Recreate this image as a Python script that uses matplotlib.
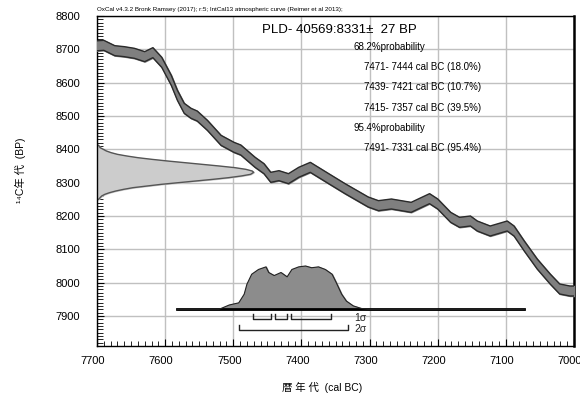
import matplotlib
matplotlib.use('Agg')
import matplotlib.pyplot as plt
import matplotlib.transforms as mtransforms
import numpy as np

plt.rcParams['font.family'] = ['Liberation Sans', 'Noto Sans CJK JP', 'DejaVu Sans']

# calibration curve (IntCal13), cal BC vs BP
curve_year = [7705, 7690, 7674, 7660, 7645, 7630, 7618, 7605, 7591, 7582, 7572,
              7562, 7553, 7538, 7518, 7499, 7489, 7468, 7455, 7445, 7433, 7419,
              7404, 7387, 7360, 7336, 7302, 7287, 7268, 7239, 7212, 7200, 7181,
              7168, 7152, 7142, 7123, 7098, 7088, 7073, 7054, 7035, 7021, 7006, 6995]
curve_bp = [8710, 8712, 8696, 8693, 8688, 8678, 8690, 8661, 8607, 8562, 8523,
            8508, 8500, 8472, 8427, 8406, 8398, 8361, 8342, 8316, 8321, 8312,
            8331, 8346, 8312, 8282, 8242, 8231, 8236, 8226, 8252, 8236, 8196,
            8181, 8185, 8170, 8155, 8170, 8155, 8110, 8056, 8011, 7981, 7975, 7975]
curve_err = [15] * len(curve_year)

# measured date shown on the y axis (8331 +/- 27 BP)
date_bp = [8250, 8255, 8260, 8265, 8270, 8275, 8280, 8285, 8290, 8295, 8300,
           8305, 8310, 8315, 8320, 8325, 8331, 8335, 8340, 8345, 8350, 8355,
           8360, 8365, 8370, 8375, 8380, 8385, 8390, 8395, 8400, 8405, 8412]
date_prob = [0.01, 0.02, 0.03, 0.05, 0.08, 0.12, 0.17, 0.23, 0.32, 0.41, 0.52,
             0.63, 0.74, 0.84, 0.92, 0.98, 1.0, 0.99, 0.95, 0.88, 0.78, 0.67,
             0.56, 0.45, 0.35, 0.26, 0.19, 0.13, 0.09, 0.06, 0.04, 0.02, 0.01]

# calibrated distribution on the x axis
cal_year = [7582, 7521, 7506, 7492, 7484, 7480, 7473, 7463, 7452, 7448, 7440,
            7430, 7421, 7414, 7404, 7394, 7385, 7375, 7365, 7355, 7349, 7341,
            7334, 7324, 7312, 7302, 7073]
cal_prob = [0, 0, 0.10, 0.15, 0.35, 0.58, 0.81, 0.92, 0.98, 0.85, 0.78,
            0.85, 0.75, 0.92, 0.98, 1.0, 0.96, 0.98, 0.92, 0.81, 0.62, 0.35,
            0.19, 0.08, 0.02, 0, 0]

sigma1 = [(7471, 7444), (7439, 7421), (7415, 7357)]
sigma2 = [(7491, 7331)]

title = 'PLD- 40569:8331±  27 BP'
prob_lines = ['68.2%probability',
              '7471- 7444 cal BC (18.0%)',
              '7439- 7421 cal BC (10.7%)',
              '7415- 7357 cal BC (39.5%)',
              '95.4%probability',
              '7491- 7331 cal BC (95.4%)']
header = 'OxCal v4.3.2 Bronk Ramsey (2017); r:5; IntCal13 atmospheric curve (Reimer et al 2013);'

fig = plt.figure(figsize=(5.8, 4.03), dpi=100)
ax = fig.add_axes([97 / 580, 57 / 403, 477 / 580, 330 / 403])

x_lo, x_hi = 7700, 7000
y_lo, y_hi = 7810, 8800
ax.set_xlim(x_lo, x_hi)
ax.set_ylim(y_lo, y_hi)

# grid with small dots at the crossings
xt = np.arange(7700, 6999, -100)
yt = np.arange(7900, 8801, 100)
ax.set_xticks(xt)
ax.set_yticks(yt)
ax.set_xticks(np.arange(7700, 6999, -10), minor=True)
ax.set_yticks(np.arange(7810, 8801, 10), minor=True)
ax.grid(True, color='#c0c0c0', lw=1.0, zorder=0)
gx, gy = np.meshgrid(xt[1:], yt[:-1])
ax.plot(gx.ravel(), gy.ravel(), ls='none', marker='o', ms=1.2, mew=0,
        color='black', zorder=1)

# calibration curve band
cb = np.array(curve_bp)
ce = np.array(curve_err)
ax.fill_between(curve_year, cb - ce, cb + ce, color='#7f7f7f', zorder=3)
ax.plot(curve_year, cb + ce, color='#2a2a2a', lw=1.0, zorder=4)
ax.plot(curve_year, cb - ce, color='#2a2a2a', lw=1.0, zorder=4)

# radiocarbon date distribution
date_span = 230
dx = x_lo - np.array(date_prob) * date_span
ax.fill_betweenx(date_bp, x_lo, dx, color='#cccccc', zorder=2)
ax.plot(dx, date_bp, color='#555555', lw=1.0, zorder=2)

# calibrated date distribution
base = 7920
cal_h = 130
cy = base + np.array(cal_prob) * cal_h
ax.fill_between(cal_year, base, cy, color='#8c8c8c', zorder=3)
ax.plot(cal_year, cy, color='#222222', lw=0.8, zorder=4)
ax.plot([cal_year[0], cal_year[-1]], [base, base], color='black', lw=2.0, zorder=3)

# sigma ranges
for a, b in sigma1:
    ax.plot([a, a, b, b], [7905, 7890, 7890, 7905], color='#222222', lw=1.0, zorder=4)
for a, b in sigma2:
    ax.plot([a, a, b, b], [7872, 7857, 7857, 7872], color='#222222', lw=1.0, zorder=4)
ax.text(7322, 7895, '1σ', fontsize=7.5, ha='left', va='center', color='#222222')
ax.text(7322, 7862, '2σ', fontsize=7.5, ha='left', va='center', color='#222222')

# ticks
ax.tick_params(axis='both', which='both', direction='in', top=False, right=False,
               labelsize=8, colors='black')
ax.tick_params(axis='x', which='major', length=5, pad=7)
ax.tick_params(axis='x', which='minor', length=3.5)
ax.tick_params(axis='y', which='major', length=5, pad=12)
ax.tick_params(axis='y', which='minor', length=4)
shift = mtransforms.ScaledTranslation(-4 / 100, 0, fig.dpi_scale_trans)
for lab in ax.get_xticklabels():
    lab.set_transform(lab.get_transform() + shift)
for s in ax.spines.values():
    s.set_color('black')
    s.set_linewidth(1.0)
ax.spines['right'].set_linewidth(1.8)

# texts
fig.text(97 / 580, 1 - 10 / 403, header, fontsize=4.5, ha='left', va='center')
fig.text(262 / 580, 1 - 30 / 403, title, fontsize=9.5, ha='left', va='center')
rows_y = [47, 67, 87, 108, 128, 148]
rows_x = [353, 364, 364, 364, 353, 364]
for t, xx, yy in zip(prob_lines, rows_x, rows_y):
    fig.text(xx / 580, 1 - yy / 403, t, fontsize=7, ha='left', va='center')

fig.text(322 / 580, 1 - 387 / 403, '暦 年 代  (cal BC)', fontsize=7.5,
         ha='center', va='center')
fig.text(20 / 580, 1 - 170 / 403, '¹⁴C年 代  (BP)', fontsize=7.5,
         ha='center', va='center', rotation=90)

fig.savefig('out.png', dpi=100)
